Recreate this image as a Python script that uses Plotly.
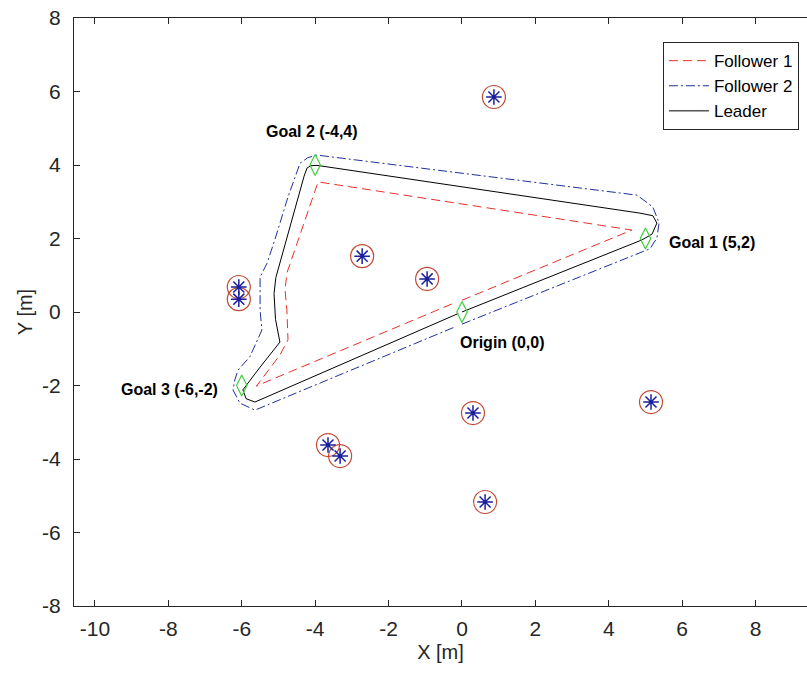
import plotly.graph_objects as go

# Leader trajectory (solid black)
leader_x = [0.0, 4.9, 5.18, 5.31, 5.2, 4.85, -3.95, -4.12, -4.22, -4.3, -5.07, -5.12, -5.08, -4.96,
            -5.5, -5.97, -5.88, -5.64, -0.1]
leader_y = [0.0, 1.96, 2.12, 2.42, 2.62, 2.69, 3.99, 3.98, 3.92, 3.7, 0.94, 0.5, -0.2, -0.82,
            -1.5, -2.12, -2.36, -2.45, -0.04]

# Follower 1 trajectory (red dashed, inside the loop)
f1_x = [0.0, 4.63, -3.92, -4.06, -4.46, -4.77, -4.82, -4.77, -4.74, -4.96, -5.6, -5.5, -0.2]
f1_y = [0.32, 2.23, 3.54, 3.13, 1.96, 1.06, 0.6, 0.05, -0.76, -1.17, -2.02, -1.97, 0.25]

# Follower 2 trajectory (blue dash-dot, outside the loop)
f2_x = [0.0, 5.12, 5.31, 5.37, 5.2, 4.77, -3.95, -4.2, -4.41, -4.74, -5.10, -5.31, -5.50, -5.50,
        -5.45, -5.78, -6.1, -6.19, -6.24, -6.05, -5.64, -0.2]
f2_y = [-0.33, 1.72, 2.01, 2.42, 2.86, 3.18, 4.27, 4.2, 4.05, 3.13, 1.96, 1.33, 0.95, 0.05,
        -0.49, -1.22, -1.58, -1.85, -2.12, -2.48, -2.67, -0.41]

# Obstacles
obs_x = [0.87, -2.72, -0.95, -6.08, -6.08, 5.15, 0.3, -3.65, -3.32, 0.63]
obs_y = [5.85, 1.52, 0.9, 0.68, 0.35, -2.45, -2.75, -3.62, -3.92, -5.17]

# Goals and origin
goal_x = [0, 5, -4, -6]
goal_y = [0, 2, 4, -2]
goal_labels = ["Origin (0,0)", "Goal 1 (5,2)", "Goal 2 (-4,4)", "Goal 3 (-6,-2)"]

x_ticks = [-10, -8, -6, -4, -2, 0, 2, 4, 6, 8]
y_ticks = [-8, -6, -4, -2, 0, 2, 4, 6, 8]

AX = "#262626"
FONT = "Liberation Sans, Arial, sans-serif"

fig = go.Figure()

fig.add_trace(go.Scatter(x=f1_x, y=f1_y, mode="lines", name="Follower 1",
                         line=dict(color="#e8302a", width=1, dash="9px,5px")))
fig.add_trace(go.Scatter(x=f2_x, y=f2_y, mode="lines", name="Follower 2",
                         line=dict(color="#1f2f9a", width=1, dash="9px,3px,2px,3px")))
fig.add_trace(go.Scatter(x=leader_x, y=leader_y, mode="lines", name="Leader",
                         line=dict(color="black", width=1)))

fig.add_trace(go.Scatter(x=obs_x, y=obs_y, mode="markers", showlegend=False, hoverinfo="skip",
                         marker=dict(symbol="circle-open", size=23, color="#c24a36",
                                     line=dict(width=1.2))))
fig.add_trace(go.Scatter(x=obs_x, y=obs_y, mode="markers", showlegend=False,
                         marker=dict(symbol="asterisk-open", size=13, color="#1a1f9c",
                                     line=dict(width=1.5))))
fig.add_trace(go.Scatter(x=goal_x, y=goal_y, mode="markers", showlegend=False,
                         marker=dict(symbol="diamond-tall-open", size=15, color="#3fcf3f",
                                     line=dict(width=1.2))))

# Goal labels
label_pos = [(-0.1, -0.82, "left"), (5.59, 1.9, "left"), (-4.09, 4.9, "center"), (-6.59, -2.1, "right")]
for (lx, ly, anc), txt in zip(label_pos, goal_labels):
    fig.add_annotation(x=lx, y=ly, text="<b>" + txt + "</b>", showarrow=False,
                       xanchor=anc, yanchor="middle",
                       font=dict(family=FONT, size=16, color="black"))

fig.update_layout(
    width=807, height=675,
    margin=dict(l=74, r=0, t=18, b=69),
    paper_bgcolor="white", plot_bgcolor="white",
    font=dict(family=FONT, color=AX, size=21),
    xaxis=dict(range=[-10.57, 9.4], tickvals=x_ticks, ticktext=[str(v) for v in x_ticks],
               ticks="inside", ticklen=6, ticklabelstandoff=4,
               tickcolor=AX, showline=True, linecolor=AX, linewidth=1, mirror="ticks",
               showgrid=False, zeroline=False,
               title=dict(text="X [m]", font=dict(size=20), standoff=5)),
    yaxis=dict(range=[-8, 8], tickvals=y_ticks, ticktext=[str(v) for v in y_ticks],
               ticks="inside", ticklen=6, ticklabelstandoff=8,
               tickcolor=AX, showline=True, linecolor=AX, linewidth=1, mirror=False,
               showgrid=False, zeroline=False,
               title=dict(text="Y [m]", font=dict(size=20), standoff=4)),
    legend=dict(x=0.989, y=0.959, xanchor="right", yanchor="top",
                bgcolor="white", bordercolor=AX, borderwidth=1,
                font=dict(size=17, color="black"), itemwidth=40,
                tracegroupgap=0),
    showlegend=True,
)

fig.write_html("out.html")
